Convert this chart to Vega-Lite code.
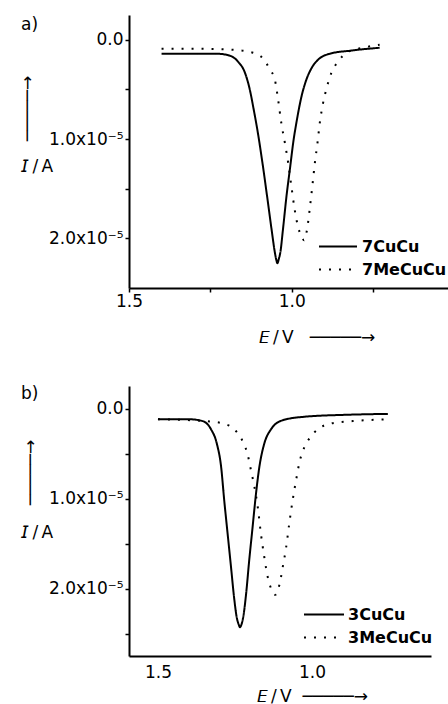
{
  "$schema": "https://vega.github.io/schema/vega-lite/v6.json",
  "background": "white",
  "padding": {"left": 18, "top": 15, "right": 0, "bottom": 0},
  "spacing": 40,
  "resolve": {
    "scale": {"x": "independent", "y": "independent", "strokeDash": "independent"},
    "axis": {"x": "independent", "y": "independent"},
    "legend": {"strokeDash": "independent"}
  },
  "config": {
    "view": {"stroke": null},
    "font": "DejaVu Sans",
    "title": {"font": "DejaVu Sans", "fontSize": 17, "fontWeight": "normal", "color": "black", "subtitleFont": "DejaVu Sans", "subtitleFontSize": 17, "subtitleColor": "black"},
    "axis": {
      "grid": false,
      "domainColor": "black",
      "domainWidth": 2,
      "tickColor": "black",
      "tickWidth": 1.5,
      "tickSize": 4,
      "labelColor": "black",
      "labelFont": "DejaVu Sans",
      "labelFontSize": 17,
      "labelOverlap": false,
      "labelFlush": false,
      "titleColor": "black",
      "titleFont": "DejaVu Sans",
      "titleFontSize": 17,
      "titleFontWeight": "normal"
    },
    "legend": {
      "labelFont": "DejaVu Sans",
      "labelFontSize": 16,
      "labelFontWeight": "bold",
      "labelColor": "black"
    }
  },
  "datasets": {
    "a": [
      {"E": 1.400, "I": 1.4e-6, "s": "7CuCu"},
      {"E": 1.300, "I": 1.4e-6, "s": "7CuCu"},
      {"E": 1.231, "I": 1.4e-6, "s": "7CuCu"},
      {"E": 1.190, "I": 1.6e-6, "s": "7CuCu"},
      {"E": 1.165, "I": 2.2e-6, "s": "7CuCu"},
      {"E": 1.144, "I": 3.3e-6, "s": "7CuCu"},
      {"E": 1.129, "I": 5.0e-6, "s": "7CuCu"},
      {"E": 1.117, "I": 7.0e-6, "s": "7CuCu"},
      {"E": 1.106, "I": 9.0e-6, "s": "7CuCu"},
      {"E": 1.090, "I": 1.24e-5, "s": "7CuCu"},
      {"E": 1.076, "I": 1.57e-5, "s": "7CuCu"},
      {"E": 1.062, "I": 1.91e-5, "s": "7CuCu"},
      {"E": 1.052, "I": 2.14e-5, "s": "7CuCu"},
      {"E": 1.048, "I": 2.21e-5, "s": "7CuCu"},
      {"E": 1.044, "I": 2.25e-5, "s": "7CuCu"},
      {"E": 1.040, "I": 2.21e-5, "s": "7CuCu"},
      {"E": 1.035, "I": 2.14e-5, "s": "7CuCu"},
      {"E": 1.027, "I": 1.91e-5, "s": "7CuCu"},
      {"E": 1.016, "I": 1.57e-5, "s": "7CuCu"},
      {"E": 1.006, "I": 1.31e-5, "s": "7CuCu"},
      {"E": 0.994, "I": 1.00e-5, "s": "7CuCu"},
      {"E": 0.986, "I": 8.4e-6, "s": "7CuCu"},
      {"E": 0.970, "I": 5.7e-6, "s": "7CuCu"},
      {"E": 0.955, "I": 4.0e-6, "s": "7CuCu"},
      {"E": 0.940, "I": 2.9e-6, "s": "7CuCu"},
      {"E": 0.919, "I": 2.0e-6, "s": "7CuCu"},
      {"E": 0.883, "I": 1.4e-6, "s": "7CuCu"},
      {"E": 0.822, "I": 1.1e-6, "s": "7CuCu"},
      {"E": 0.730, "I": 8.0e-7, "s": "7CuCu"},
      {"E": 1.400, "I": 9.0e-7, "s": "7MeCuCu"},
      {"E": 1.300, "I": 9.0e-7, "s": "7MeCuCu"},
      {"E": 1.180, "I": 1.0e-6, "s": "7MeCuCu"},
      {"E": 1.119, "I": 1.3e-6, "s": "7MeCuCu"},
      {"E": 1.088, "I": 1.9e-6, "s": "7MeCuCu"},
      {"E": 1.067, "I": 3.0e-6, "s": "7MeCuCu"},
      {"E": 1.052, "I": 4.0e-6, "s": "7MeCuCu"},
      {"E": 1.042, "I": 6.0e-6, "s": "7MeCuCu"},
      {"E": 1.032, "I": 8.4e-6, "s": "7MeCuCu"},
      {"E": 1.021, "I": 1.04e-5, "s": "7MeCuCu"},
      {"E": 1.011, "I": 1.24e-5, "s": "7MeCuCu"},
      {"E": 1.001, "I": 1.48e-5, "s": "7MeCuCu"},
      {"E": 0.991, "I": 1.71e-5, "s": "7MeCuCu"},
      {"E": 0.981, "I": 1.88e-5, "s": "7MeCuCu"},
      {"E": 0.970, "I": 1.98e-5, "s": "7MeCuCu"},
      {"E": 0.962, "I": 2.02e-5, "s": "7MeCuCu"},
      {"E": 0.953, "I": 1.91e-5, "s": "7MeCuCu"},
      {"E": 0.945, "I": 1.71e-5, "s": "7MeCuCu"},
      {"E": 0.937, "I": 1.48e-5, "s": "7MeCuCu"},
      {"E": 0.929, "I": 1.24e-5, "s": "7MeCuCu"},
      {"E": 0.921, "I": 1.04e-5, "s": "7MeCuCu"},
      {"E": 0.914, "I": 8.4e-6, "s": "7MeCuCu"},
      {"E": 0.904, "I": 6.4e-6, "s": "7MeCuCu"},
      {"E": 0.894, "I": 5.0e-6, "s": "7MeCuCu"},
      {"E": 0.878, "I": 3.3e-6, "s": "7MeCuCu"},
      {"E": 0.858, "I": 2.2e-6, "s": "7MeCuCu"},
      {"E": 0.827, "I": 1.2e-6, "s": "7MeCuCu"},
      {"E": 0.781, "I": 8.0e-7, "s": "7MeCuCu"},
      {"E": 0.730, "I": 5.0e-7, "s": "7MeCuCu"}
    ],
    "b": [
      {"E": 1.500, "I": 1.2e-6, "s": "3CuCu"},
      {"E": 1.398, "I": 1.2e-6, "s": "3CuCu"},
      {"E": 1.355, "I": 1.4e-6, "s": "3CuCu"},
      {"E": 1.328, "I": 2.3e-6, "s": "3CuCu"},
      {"E": 1.309, "I": 3.9e-6, "s": "3CuCu"},
      {"E": 1.295, "I": 6.5e-6, "s": "3CuCu"},
      {"E": 1.285, "I": 1.02e-5, "s": "3CuCu"},
      {"E": 1.274, "I": 1.39e-5, "s": "3CuCu"},
      {"E": 1.263, "I": 1.76e-5, "s": "3CuCu"},
      {"E": 1.252, "I": 2.13e-5, "s": "3CuCu"},
      {"E": 1.245, "I": 2.31e-5, "s": "3CuCu"},
      {"E": 1.238, "I": 2.40e-5, "s": "3CuCu"},
      {"E": 1.234, "I": 2.43e-5, "s": "3CuCu"},
      {"E": 1.229, "I": 2.40e-5, "s": "3CuCu"},
      {"E": 1.223, "I": 2.31e-5, "s": "3CuCu"},
      {"E": 1.214, "I": 2.06e-5, "s": "3CuCu"},
      {"E": 1.204, "I": 1.69e-5, "s": "3CuCu"},
      {"E": 1.193, "I": 1.32e-5, "s": "3CuCu"},
      {"E": 1.182, "I": 9.5e-6, "s": "3CuCu"},
      {"E": 1.171, "I": 6.5e-6, "s": "3CuCu"},
      {"E": 1.155, "I": 3.9e-6, "s": "3CuCu"},
      {"E": 1.133, "I": 2.3e-6, "s": "3CuCu"},
      {"E": 1.095, "I": 1.3e-6, "s": "3CuCu"},
      {"E": 1.019, "I": 9.0e-7, "s": "3CuCu"},
      {"E": 0.890, "I": 7.0e-7, "s": "3CuCu"},
      {"E": 0.754, "I": 6.0e-7, "s": "3CuCu"},
      {"E": 1.500, "I": 1.2e-6, "s": "3MeCuCu"},
      {"E": 1.344, "I": 1.4e-6, "s": "3MeCuCu"},
      {"E": 1.285, "I": 1.7e-6, "s": "3MeCuCu"},
      {"E": 1.247, "I": 2.5e-6, "s": "3MeCuCu"},
      {"E": 1.223, "I": 3.8e-6, "s": "3MeCuCu"},
      {"E": 1.209, "I": 5.1e-6, "s": "3MeCuCu"},
      {"E": 1.198, "I": 6.9e-6, "s": "3MeCuCu"},
      {"E": 1.187, "I": 8.7e-6, "s": "3MeCuCu"},
      {"E": 1.176, "I": 1.10e-5, "s": "3MeCuCu"},
      {"E": 1.166, "I": 1.39e-5, "s": "3MeCuCu"},
      {"E": 1.155, "I": 1.65e-5, "s": "3MeCuCu"},
      {"E": 1.144, "I": 1.87e-5, "s": "3MeCuCu"},
      {"E": 1.133, "I": 2.00e-5, "s": "3MeCuCu"},
      {"E": 1.119, "I": 2.07e-5, "s": "3MeCuCu"},
      {"E": 1.106, "I": 1.96e-5, "s": "3MeCuCu"},
      {"E": 1.095, "I": 1.76e-5, "s": "3MeCuCu"},
      {"E": 1.084, "I": 1.54e-5, "s": "3MeCuCu"},
      {"E": 1.074, "I": 1.28e-5, "s": "3MeCuCu"},
      {"E": 1.063, "I": 1.02e-5, "s": "3MeCuCu"},
      {"E": 1.052, "I": 8.0e-6, "s": "3MeCuCu"},
      {"E": 1.041, "I": 6.0e-6, "s": "3MeCuCu"},
      {"E": 1.025, "I": 4.3e-6, "s": "3MeCuCu"},
      {"E": 1.006, "I": 3.2e-6, "s": "3MeCuCu"},
      {"E": 0.981, "I": 2.3e-6, "s": "3MeCuCu"},
      {"E": 0.944, "I": 1.7e-6, "s": "3MeCuCu"},
      {"E": 0.868, "I": 1.4e-6, "s": "3MeCuCu"},
      {"E": 0.749, "I": 1.2e-6, "s": "3MeCuCu"}
    ]
  },
  "vconcat": [
    {
      "width": 319,
      "height": 273,
      "title": {"text": "a)", "subtitle": "𝘐\u2009/\u2009A", "subtitlePadding": 125, "anchor": "start", "frame": "group", "dx": -108, "dy": 169, "offset": 0, "baseline": "middle"},
      "data": {"name": "a"},
      "mark": {"type": "line", "color": "black", "strokeWidth": 2, "interpolate": "monotone"},
      "encoding": {
        "x": {
          "field": "E", "type": "quantitative",
          "scale": {"domain": [0.52, 1.5], "reverse": true, "nice": false, "zero": false},
          "axis": {
            "values": [1.5, 1.25, 1.0, 0.75],
            "labelExpr": "datum.value == 1.5 ? '1.5' : (datum.value == 1 ? '1.0' : '')",
            "labelPadding": 1,
            "title": "𝘌\u2009/\u2009V\u00a0\u00a0\u00a0─────→",
            "titleAlign": "left",
            "titleAnchor": null,
            "titleBaseline": "middle",
            "titleX": 129,
            "titleY": 49
          }
        },
        "y": {
          "field": "I", "type": "quantitative",
          "scale": {"domain": [-2.5e-6, 2.5e-5], "reverse": true, "nice": false, "zero": false},
          "axis": {
            "values": [0, 5e-6, 1e-5, 1.5e-5, 2e-5],
            "labelExpr": "datum.value == 0 ? '0.0' : (abs(datum.value*1e5 - round(datum.value*1e5)) < 0.01 ? format(datum.value*1e5, '.1f') + 'x10⁻⁵' : '')",
            "labelPadding": 2,
            "title": "─────→",
            "titleAngle": 270,
            "titleAlign": "center",
            "titleBaseline": "middle",
            "titleX": -102,
            "titleY": 93
          }
        },
        "strokeDash": {
          "field": "s", "type": "nominal",
          "scale": {"domain": ["7CuCu", "7MeCuCu"], "range": [[1, 0], [2, 8]]},
          "legend": {
            "orient": "none", "legendX": 189, "legendY": 223, "title": null,
            "symbolType": "stroke", "symbolSize": 1444, "symbolStrokeWidth": 2,
            "symbolStrokeColor": "black", "labelOffset": 4, "clipHeight": 17, "rowPadding": 6, "padding": 0
          }
        }
      }
    },
    {
      "width": 302,
      "height": 270,
      "title": {"text": "b)", "subtitle": "𝘐\u2009/\u2009A", "subtitlePadding": 122, "anchor": "start", "frame": "group", "dx": -108, "dy": 164, "offset": 0, "baseline": "middle"},
      "data": {"name": "b"},
      "mark": {"type": "line", "color": "black", "strokeWidth": 2, "interpolate": "monotone"},
      "encoding": {
        "x": {
          "field": "E", "type": "quantitative",
          "scale": {"domain": [0.614, 1.594], "reverse": true, "nice": false, "zero": false},
          "axis": {
            "values": [1.5, 1.0],
            "labelExpr": "datum.value == 1.5 ? '1.5' : '1.0'",
            "ticks": false,
            "labelPadding": 8,
            "title": "𝘌\u2009/\u2009V\u00a0\u00a0─────→",
            "titleAlign": "left",
            "titleAnchor": null,
            "titleBaseline": "middle",
            "titleX": 127,
            "titleY": 40
          }
        },
        "y": {
          "field": "I", "type": "quantitative",
          "scale": {"domain": [-2.5e-6, 2.75e-5], "reverse": true, "nice": false, "zero": false},
          "axis": {
            "values": [0, 5e-6, 1e-5, 1.5e-5, 2e-5, 2.5e-5],
            "labelExpr": "datum.value == 0 ? '0.0' : (abs(datum.value*1e5 - round(datum.value*1e5)) < 0.01 ? format(datum.value*1e5, '.1f') + 'x10⁻⁵' : '')",
            "labelPadding": 2,
            "title": "─────→",
            "titleAngle": 270,
            "titleAlign": "center",
            "titleBaseline": "middle",
            "titleX": -99,
            "titleY": 86
          }
        },
        "strokeDash": {
          "field": "s", "type": "nominal",
          "scale": {"domain": ["3CuCu", "3MeCuCu"], "range": [[1, 0], [2, 8]]},
          "legend": {
            "orient": "none", "legendX": 174, "legendY": 220, "title": null,
            "symbolType": "stroke", "symbolSize": 1600, "symbolStrokeWidth": 2,
            "symbolStrokeColor": "black", "labelOffset": 3, "clipHeight": 17, "rowPadding": 6, "padding": 0
          }
        }
      }
    }
  ]
}
